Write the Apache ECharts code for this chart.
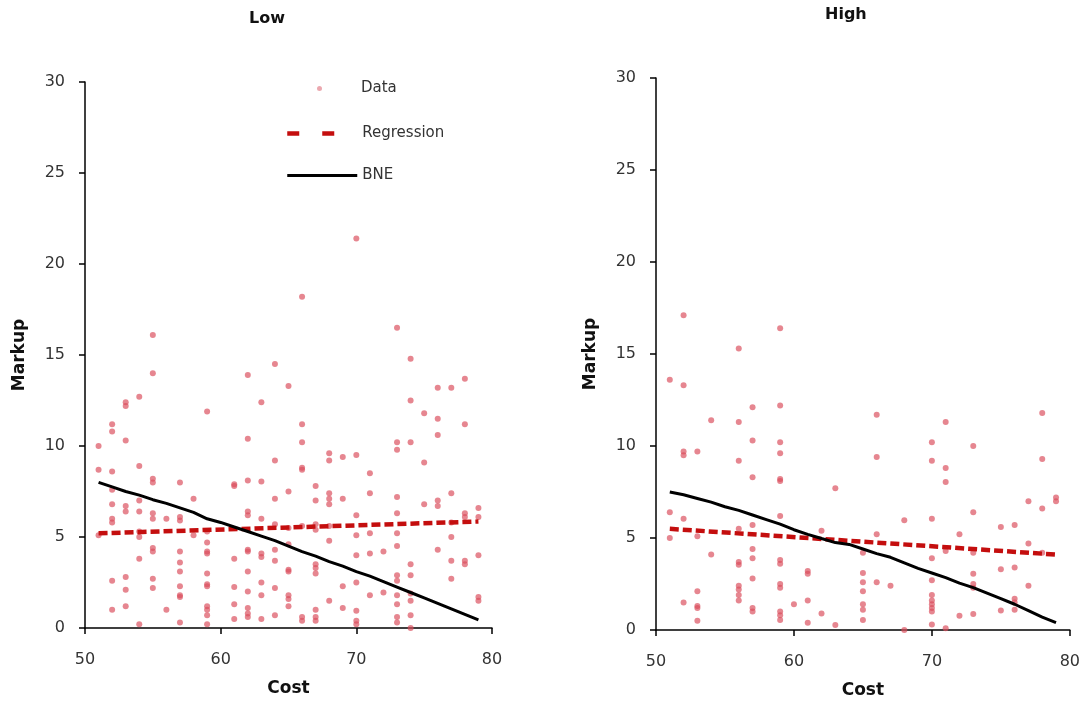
<!DOCTYPE html>
<html>
<head>
<meta charset="utf-8">
<script src="https://cdn.jsdelivr.net/npm/echarts@6/dist/echarts.min.js"></script>
<style>html,body{margin:0;padding:0;background:#fff}#c{width:1083px;height:704px}</style>
</head>
<body>
<div id="c"></div>
<script>
// ---- Data ----
const panelTitles = ['Low', 'High'];
const legendNames = ['Data', 'Regression', 'BNE'];
const xTicks = [50, 60, 70, 80];
const yTicks = [0, 5, 10, 15, 20, 25, 30];

const lowPoints = [
  [51,10.0],[51,8.7],[51,5.1],
  [52,11.2],[52,10.8],[52,8.6],[52,7.6],[52,6.8],[52,6.0],[52,5.8],[52,2.6],[52,1.0],
  [53,12.4],[53,12.2],[53,10.3],[53,6.7],[53,6.4],[53,2.8],[53,2.1],[53,1.2],
  [54,12.7],[54,8.9],[54,7.0],[54,6.4],[54,5.3],[54,5.0],[54,3.8],[54,0.2],
  [55,16.1],[55,14.0],[55,8.2],[55,8.0],[55,6.3],[55,6.0],[55,4.4],[55,4.2],[55,2.7],[55,2.2],
  [56,6.0],[56,1.0],
  [57,8.0],[57,6.1],[57,5.9],[57,4.2],[57,3.6],[57,3.1],[57,2.3],[57,1.8],[57,1.7],[57,0.3],
  [58,7.1],[58,5.1],
  [59,11.9],[59,5.3],[59,4.7],[59,4.2],[59,4.1],[59,3.0],[59,2.4],[59,2.3],[59,1.2],[59,1.0],[59,0.7],[59,0.2],
  [61,7.9],[61,7.8],[61,3.8],[61,2.25],[61,1.3],[61,0.5],
  [62,13.9],[62,10.4],[62,8.1],[62,6.4],[62,6.2],[62,4.3],[62,4.2],[62,3.1],[62,2.0],[62,1.1],[62,0.8],[62,0.6],
  [63,12.4],[63,8.05],[63,6.0],[63,4.1],[63,3.9],[63,2.5],[63,1.8],[63,0.5],
  [64,14.5],[64,9.2],[64,7.1],[64,5.7],[64,4.3],[64,3.7],[64,2.2],[64,0.7],
  [65,13.3],[65,7.5],[65,5.5],[65,4.6],[65,3.2],[65,3.1],[65,1.8],[65,1.6],[65,1.2],
  [66,18.2],[66,11.2],[66,10.2],[66,8.8],[66,8.7],[66,5.6],[66,0.6],[66,0.4],
  [67,7.8],[67,7.0],[67,5.7],[67,5.4],[67,3.5],[67,3.3],[67,3.0],[67,1.0],[67,0.6],[67,0.4],
  [68,9.6],[68,9.2],[68,7.4],[68,7.1],[68,6.8],[68,5.6],[68,4.8],[68,1.5],
  [69,9.4],[69,7.1],[69,2.3],[69,1.1],
  [70,21.4],[70,9.5],[70,6.2],[70,5.1],[70,4.0],[70,2.5],[70,0.95],[70,0.4],[70,0.2],
  [71,8.5],[71,7.4],[71,5.2],[71,4.1],[71,1.8],
  [72,4.2],[72,1.95],
  [73,16.5],[73,10.2],[73,9.8],[73,7.2],[73,6.3],[73,5.2],[73,4.5],[73,2.9],[73,2.6],[73,1.8],[73,1.3],[73,0.6],[73,0.3],
  [74,14.8],[74,12.5],[74,10.2],[74,3.5],[74,2.9],[74,1.9],[74,1.5],[74,0.7],[74,0.0],
  [75,11.8],[75,9.1],[75,6.8],
  [76,13.2],[76,11.5],[76,10.6],[76,7.0],[76,6.7],[76,4.3],
  [77,13.2],[77,7.4],[77,5.8],[77,5.0],[77,3.7],[77,2.7],
  [78,13.7],[78,11.2],[78,6.3],[78,6.1],[78,3.7],[78,3.5],
  [79,6.6],[79,6.1],[79,4.0],[79,1.7],[79,1.5]
];

const highPoints = [
  [51,13.6],[51,6.4],[51,5.0],
  [52,17.1],[52,13.3],[52,9.7],[52,9.5],[52,6.05],[52,1.5],
  [53,9.7],[53,5.1],[53,2.1],[53,1.3],[53,1.2],[53,0.5],
  [54,11.4],[54,4.1],
  [56,15.3],[56,11.3],[56,9.2],[56,5.5],[56,3.7],[56,3.55],[56,2.4],[56,2.2],[56,1.9],[56,1.6],
  [57,12.1],[57,10.3],[57,8.3],[57,5.7],[57,4.4],[57,3.9],[57,2.8],[57,1.2],[57,1.0],
  [59,16.4],[59,12.2],[59,10.2],[59,9.6],[59,8.2],[59,8.1],[59,6.2],[59,3.8],[59,3.6],[59,2.5],[59,2.3],[59,1.0],[59,0.8],[59,0.55],
  [60,1.4],
  [61,3.2],[61,3.06],[61,1.6],[61,0.4],
  [62,5.4],[62,0.9],
  [63,7.7],[63,0.27],
  [65,4.2],[65,3.1],[65,2.6],[65,2.1],[65,1.4],[65,1.1],[65,0.55],
  [66,11.7],[66,9.4],[66,5.2],[66,2.6],
  [67,2.4],
  [68,5.96],[68,0.0],
  [70,10.2],[70,9.2],[70,6.05],[70,3.9],[70,2.7],[70,1.9],[70,1.6],[70,1.4],[70,1.2],[70,1.0],[70,0.3],
  [71,11.3],[71,8.8],[71,8.05],[71,4.3],[71,0.1],
  [72,5.2],[72,0.77],
  [73,10.0],[73,6.4],[73,4.2],[73,3.06],[73,2.5],[73,2.3],[73,0.87],
  [75,5.6],[75,3.3],[75,1.06],
  [76,5.7],[76,3.4],[76,1.7],[76,1.5],[76,1.1],
  [77,7.0],[77,4.7],[77,2.4],
  [78,11.8],[78,9.3],[78,6.6],[78,4.2],
  [79,7.2],[79,7.0]
];

const lowRegression = [[51, 5.2], [79, 5.85]];
const highRegression = [[51, 5.5], [79, 4.1]];

const bneCost = [51,52,53,54,55,56,57,58,59,60,61,62,63,64,65,66,67,68,69,70,71,72,73,74,75,76,77,78,79];
const lowBNE  = [8.0,7.75,7.5,7.3,7.05,6.85,6.6,6.35,6.0,5.8,5.55,5.3,5.05,4.8,4.5,4.2,3.95,3.65,3.4,3.1,2.85,2.55,2.25,1.95,1.65,1.35,1.05,0.75,0.45];
const highBNE = [7.5,7.35,7.15,6.95,6.7,6.5,6.25,6.0,5.75,5.45,5.2,4.97,4.75,4.65,4.4,4.15,3.95,3.65,3.35,3.1,2.85,2.55,2.3,2.0,1.7,1.4,1.05,0.7,0.4];

// ---- Chart ----
const FONT = 'DejaVu Sans';
const chart = echarts.init(document.getElementById('c'), null, {renderer: 'canvas'});

function xAxisCfg(gi) {
  return {
    type: 'value', gridIndex: gi, min: xTicks[0], max: xTicks[xTicks.length - 1], interval: 10,
    name: 'Cost', nameLocation: 'middle', nameGap: 52,
    nameTextStyle: {fontFamily: FONT, fontWeight: 'bold', fontSize: 17, color: '#111'},
    axisLine: {onZero: false, lineStyle: {color: '#000', width: 1.5}},
    axisTick: {show: true, inside: false, length: 6, lineStyle: {color: '#000', width: 1.5}},
    axisLabel: {fontFamily: FONT, fontSize: 16, color: '#333', margin: 24},
    splitLine: {show: false}
  };
}
function yAxisCfg(gi) {
  return {
    type: 'value', gridIndex: gi, min: yTicks[0], max: yTicks[yTicks.length - 1], interval: 5,
    name: 'Markup', nameLocation: 'middle', nameGap: 57,
    nameTextStyle: {fontFamily: FONT, fontWeight: 'bold', fontSize: 17, color: '#111'},
    axisLine: {onZero: false, lineStyle: {color: '#000', width: 1.5}},
    axisTick: {show: true, inside: false, length: 6, lineStyle: {color: '#000', width: 1.5}},
    axisLabel: {fontFamily: FONT, fontSize: 16, color: '#333', margin: 20},
    splitLine: {show: false}
  };
}

const dotStyle = {color: 'rgba(218,78,92,0.85)'};
const regStyle = {color: '#c40e0e', width: 4.5, type: [9, 4]};
const bneStyle = {color: '#000', width: 3, type: 'solid'};

function scatterSeries(points, gi) {
  return {name: legendNames[0], type: 'scatter', xAxisIndex: gi, yAxisIndex: gi,
    data: points, symbol: 'circle', symbolSize: 6, itemStyle: dotStyle, z: 2};
}
function regSeries(points, gi) {
  return {name: legendNames[1], type: 'line', xAxisIndex: gi, yAxisIndex: gi,
    data: points, showSymbol: false, symbol: 'none', lineStyle: regStyle, itemStyle: {color: '#c40e0e'}, z: 3};
}
function bneSeries(vals, gi) {
  return {name: legendNames[2], type: 'line', xAxisIndex: gi, yAxisIndex: gi,
    data: bneCost.map((c, i) => [c, vals[i]]), showSymbol: false, symbol: 'none',
    lineStyle: bneStyle, itemStyle: {color: '#000'}, z: 4};
}

const legendText = {fontFamily: FONT, fontSize: 15, color: '#333'};

chart.setOption({
  backgroundColor: '#fff',
  animation: false,
  graphic: [
    {type: 'text', left: 249, top: 11, style: {text: panelTitles[0], fontFamily: FONT, fontWeight: 'bold', fontSize: 16, fill: '#111'}},
    {type: 'text', left: 825, top: 7, style: {text: panelTitles[1], fontFamily: FONT, fontWeight: 'bold', fontSize: 16, fill: '#111'}}
  ],
  grid: [
    {left: 85, top: 82, width: 407, height: 546},
    {left: 656, top: 78, width: 415, height: 552}
  ],
  xAxis: [xAxisCfg(0), xAxisCfg(1)],
  yAxis: [yAxisCfg(0), yAxisCfg(1)],
  legend: [
    {
      orient: 'vertical', left: 312, top: 76, itemWidth: 5, itemHeight: 5,
      selectedMode: false,
      textStyle: Object.assign({padding: [0, 0, 0, 34]}, legendText),
      data: [{name: legendNames[0], icon: 'circle', itemStyle: {color: 'rgba(222,110,122,0.75)'}}]
    },
    {
      orient: 'vertical', left: 280, top: 121, itemWidth: 70, itemHeight: 14, itemGap: 27,
      selectedMode: false, textStyle: legendText,
      data: [
        {name: legendNames[1], itemStyle: {opacity: 0}, lineStyle: {type: [12, 23], width: 4.5, color: '#c40e0e'}},
        {name: legendNames[2], itemStyle: {opacity: 0}, lineStyle: {width: 3, color: '#000'}}
      ]
    }
  ],
  series: [
    scatterSeries(lowPoints, 0), regSeries(lowRegression, 0), bneSeries(lowBNE, 0),
    scatterSeries(highPoints, 1), regSeries(highRegression, 1), bneSeries(highBNE, 1)
  ]
});
</script>
</body>
</html>
